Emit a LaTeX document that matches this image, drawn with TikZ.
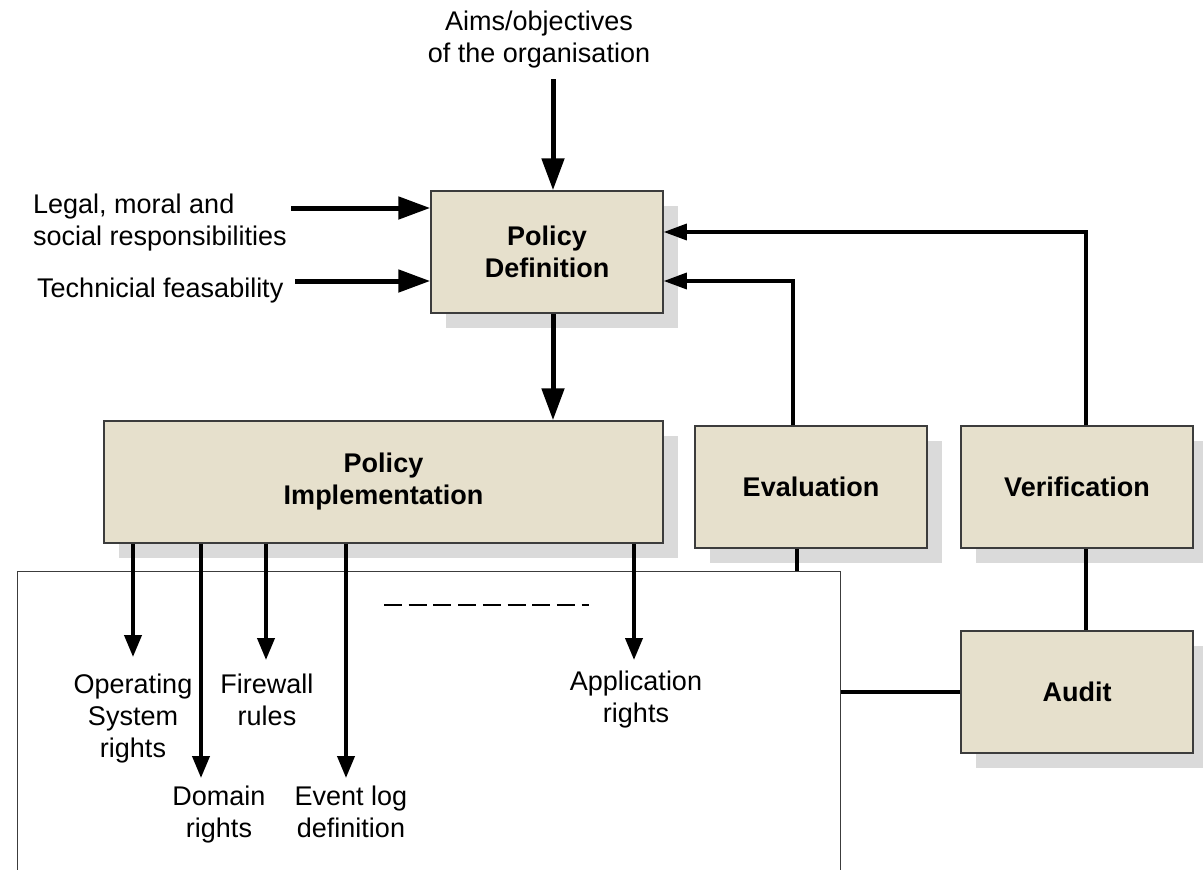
\documentclass[tikz,border=0pt]{standalone}
\usepackage{fontspec}
\setmainfont{Liberation Sans}
\usetikzlibrary{arrows.meta,shadows}
\definecolor{boxfill}{RGB}{230,224,204}
\definecolor{boxline}{RGB}{60,60,60}
\definecolor{shadowgray}{RGB}{218,218,218}

\begin{document}
\begin{tikzpicture}[x=1pt,y=-1pt]

        \tikzset{
            stage/.style={draw=boxline, line width=1.5pt, fill=boxfill, inner sep=0pt,
                minimum width=232pt, minimum height=122pt, align=center,
                font=\fontsize{27}{32}\selectfont\bfseries,
                drop shadow={shadow xshift=15pt, shadow yshift=-15pt, fill=shadowgray, opacity=1}},
            note/.style={inner sep=0pt, align=center, anchor=north, font=\fontsize{27}{32}\selectfont},
            sidenote/.style={note, align=left, anchor=north west},
            bigvec/.style={line width=5pt, -{Triangle[length=32pt,width=22pt]}},
            vec/.style={line width=4pt, -{Triangle[length=22pt,width=17pt]}},
            back/.style={line width=3.3pt, -{Triangle[length=23pt,width=16pt]}},
            link/.style={line width=3.5pt},
            area/.style={draw=boxline, line width=1.3pt},
            etcline/.style={line width=2pt, dash pattern=on 18pt off 6.7pt}
        }

        \useasboundingbox (0,0) rectangle (1203,870);
        \clip (0,0) rectangle (1203,870);

        \node[area, anchor=north west, inner sep=0pt, minimum width=823pt, minimum height=340pt] (pad) at (17,571) {};

        \node[stage] (def) at (547,252) {Policy\\Definition};
        \node[stage, minimum width=559pt] (impl) at (383.5,482) {Policy\\Implementation};
        \node[stage] (eval) at (811,487) {Evaluation};
        \node[stage] (verif) at (1077,487) {Verification};
        \node[stage] (audit) at (1077,692) {Audit};

        \node[note] (aims) at (539,10.5) {Aims/objectives\\of the organisation};
        \node[sidenote] (legal) at (33,193.5) {Legal, moral and\\social responsibilities};
        \node[sidenote] (tech) at (37,277.5) {Technicial feasability};

        \node[note] (os) at (133,673.5) {Operating\\System\\rights};
        \node[note] (dom) at (219,785.5) {Domain\\rights};
        \node[note] (fw) at (267,673.5) {Firewall\\rules};
        \node[note] (evlog) at (351,785.5) {Event log\\definition};
        \node[note] (app) at (636,670.5) {Application\\rights};

        \coordinate (aimsfoot) at (553,79);
        \coordinate (legalfoot) at (291,208);
        \coordinate (techfoot) at (295,281);
        \coordinate (evalturn) at (793,281);
        \coordinate (verifturn) at (1086,232);
        \coordinate (evaldrop) at (797,548);
        \coordinate (auditrise) at (1086,631);

        \coordinate (ostip) at (133,657);
        \coordinate (domtip) at (201,778);
        \coordinate (fwtip) at (266,660);
        \coordinate (evtip) at (346,778);
        \coordinate (apptip) at (634,660);

        \draw[bigvec] (aimsfoot) -- (aimsfoot |- def.north);
        \draw[bigvec] (legalfoot) -- (legalfoot -| def.west);
        \draw[bigvec] (techfoot) -- (techfoot -| def.west);
        \draw[bigvec] (def.south -| aimsfoot) -- (impl.north -| aimsfoot);

        \draw[back] (eval.north -| evalturn) -- (evalturn) -- (evalturn -| def.east);
        \draw[back] (verif.north -| verifturn) -- (verifturn) -- (verifturn -| def.east);

        \draw[link] (eval.south -| evaldrop) -- (evaldrop |- pad.north);
        \draw[link] (verif.south -| auditrise) -- (audit.north -| auditrise);
        \draw[link] (audit.west) -- (audit.west -| pad.east);

        \draw[vec] (impl.south -| ostip) -- (ostip);
        \draw[vec] (impl.south -| domtip) -- (domtip);
        \draw[vec] (impl.south -| fwtip) -- (fwtip);
        \draw[vec] (impl.south -| evtip) -- (evtip);
        \draw[vec] (impl.south -| apptip) -- (apptip);

        \draw[etcline] (384,605) -- (589,605);

    \end{tikzpicture}
\end{document}
